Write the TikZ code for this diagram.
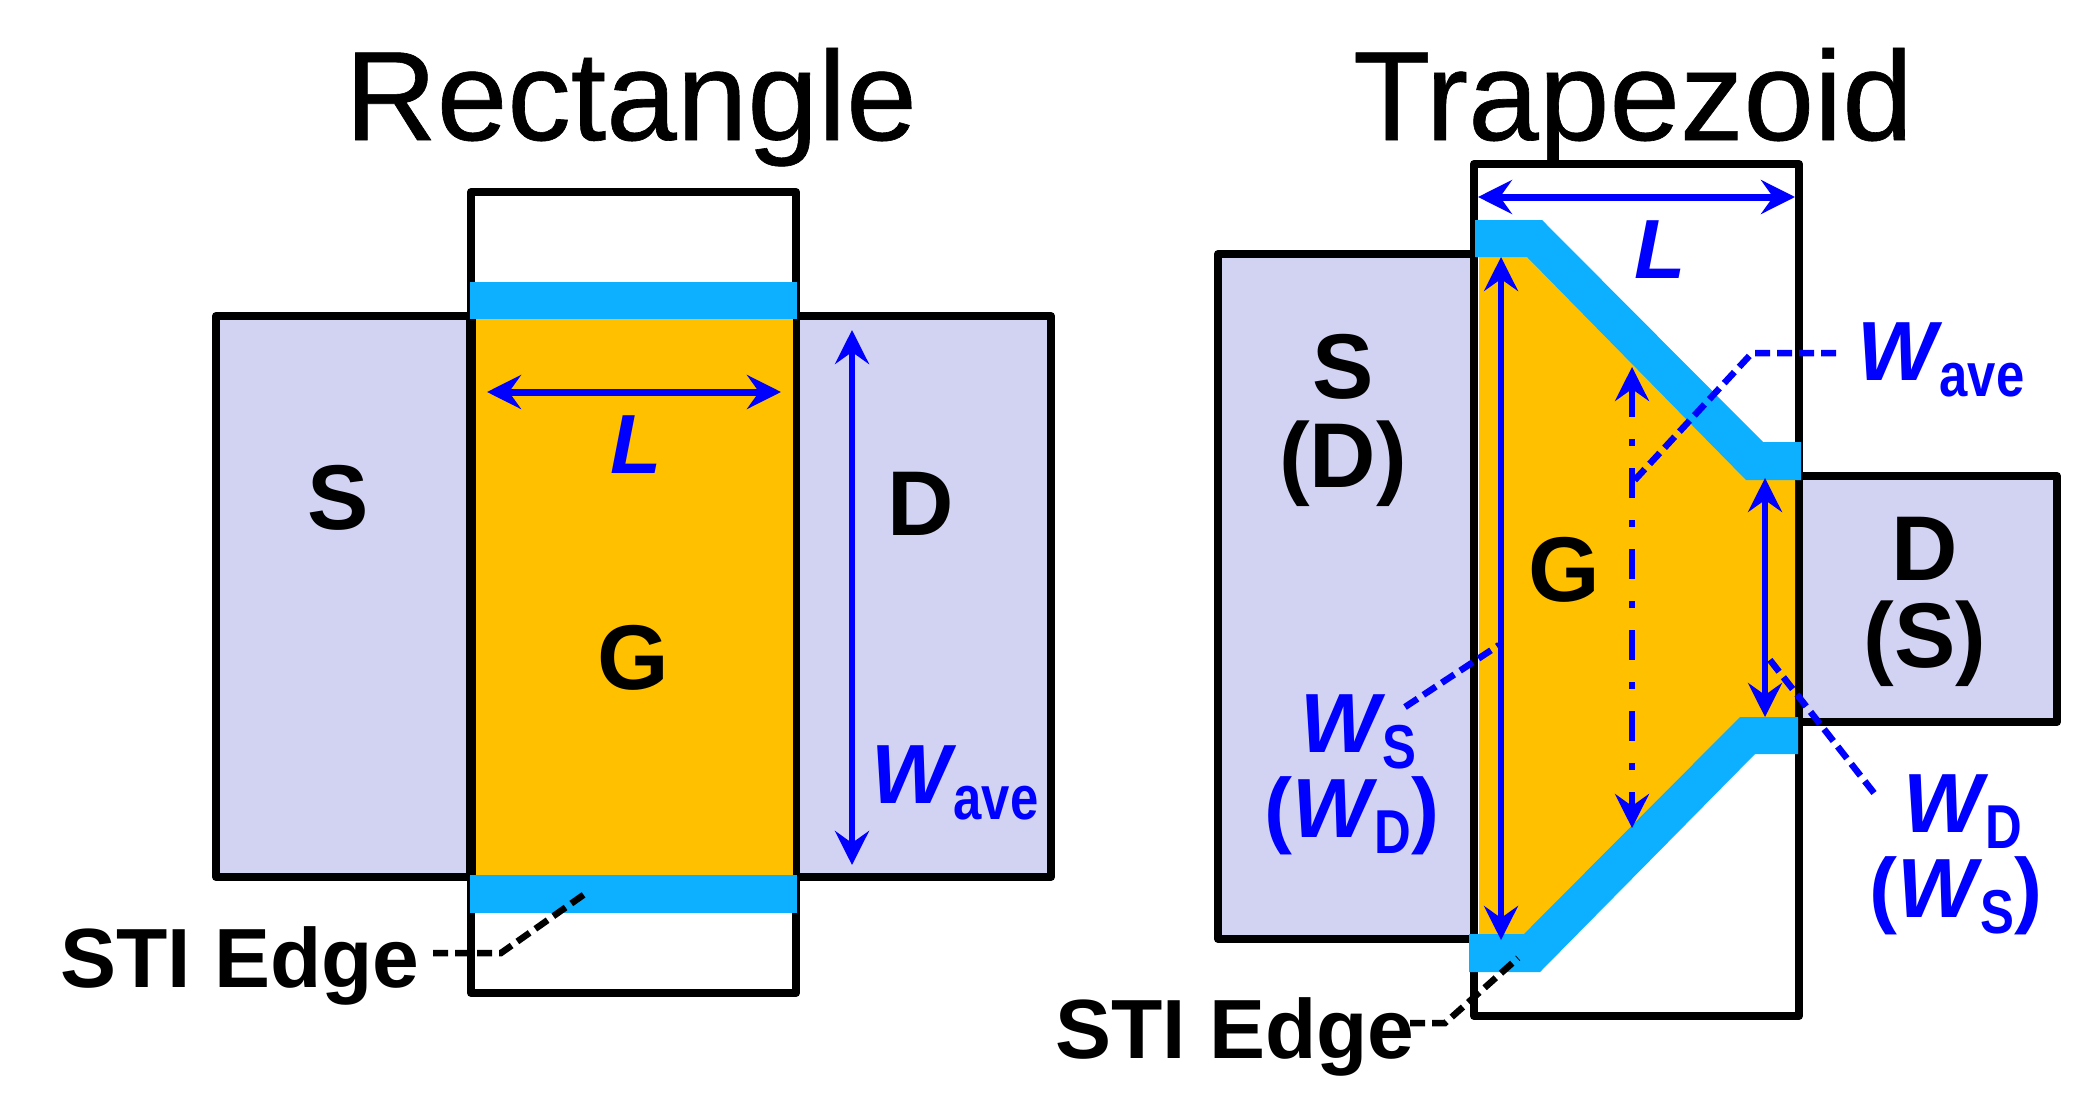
\documentclass[tikz,border=0pt]{standalone}
\usepackage{fontspec}
\usepackage{graphicx}
\setmainfont{Liberation Sans}
\newfontfamily\titlefont[FakeBold=0.5]{Liberation Sans}
\usetikzlibrary{arrows.meta}
\definecolor{srcfill}{HTML}{D2D2F2}
\definecolor{gatefill}{HTML}{FFC000}
\definecolor{stifill}{HTML}{0DAFFF}
\definecolor{dimblue}{HTML}{0000FF}
\newcommand{\WSub}[1]{\textit{W}\kern-3pt\raisebox{-16pt}{\scalebox{.82}[1]{\fontsize{62}{62}\selectfont #1}}}
\tikzset{
  x=1pt,y=-1pt,
  box/.style={draw=black,line width=8pt,line join=round},
  srcbox/.style={box,fill=srcfill},
  stiband/.style={fill=stifill,draw=none},
  gatearea/.style={fill=gatefill,draw=none},
  dimline/.style={draw=dimblue,line width=6pt,{Stealth[length=34pt,width=34pt,inset=12pt]}-{Stealth[length=34pt,width=34pt,inset=12pt]}},
  dimdash/.style={dimline,dash pattern=on 30pt off 22pt on 7pt off 22pt},
  leader/.style={line width=6.5pt,dash pattern=on 15pt off 7pt},
  lab/.style={inner sep=0pt,anchor=base},
  title/.style={lab,font=\fontsize{127}{127}\titlefont\selectfont},
  term/.style={lab,font=\fontsize{92}{92}\selectfont\bfseries},
  dimlab/.style={lab,text=dimblue,font=\fontsize{84}{84}\selectfont\bfseries},
  stilab/.style={lab,font=\fontsize{84}{84}\selectfont\bfseries},
}
\begin{document}
\begin{tikzpicture}
\useasboundingbox (0,0) rectangle (2095,1113);
% ---------- Rectangle
\node[title] (t1) at (631,140) {Rectangle};
\draw[box,fill=white] (471,192) rectangle (796,993);
\draw[srcbox] (216,316) rectangle (471,877);
\draw[srcbox] (796,316) rectangle (1051,877);
\fill[gatearea] (476,316) rectangle (793,877);
\draw[black,line width=10pt] (471,316) -- (471,877);
\fill[stiband] (470,282) rectangle (797,319);
\fill[stiband] (470,875) rectangle (797,913);
\coordinate (la) at (487,392); \coordinate (lb) at (781,392);
\draw[dimline,line width=7pt] (la) -- (lb);
\coordinate (wa) at (852,330); \coordinate (wb) at (852,865);
\draw[dimline] (wa) -- (wb);
\node[term] (s1) at (338,529) {S};
\node[term] (d1) at (921,535) {D};
\node[term] (g1) at (633,689) {G};
\node[dimlab] (l1) at (636,473) {\textit{L}};
\node[dimlab,anchor=base west] (wave1) at (871,803) {\WSub{ave}};
\node[stilab,anchor=base west] (sti1) at (60,987) {STI Edge};
\coordinate (s1a) at (433,953); \coordinate (s1b) at (501,953); \coordinate (s1c) at (589,891);
\draw[leader] (s1a) -- (s1b) -- (s1c);
% ---------- Trapezoid
\node[title] (t2) at (1633,140) {Trapezoid};
\draw[box,fill=white] (1474,164) rectangle (1799,1016);
\draw[srcbox] (1218,254) rectangle (1474,939);
\draw[srcbox] (1799,476) rectangle (2057,722);
\fill[gatearea] (1479,254) -- (1530,254) -- (1750,476) -- (1795,476) -- (1795,722) -- (1740,722) -- (1524,938) -- (1479,938) -- cycle;
\fill[stiband] (1475,220) -- (1542,220) -- (1763,442) -- (1801,442) -- (1801,480) -- (1746,480) -- (1527,257) -- (1475,257) -- cycle;
\fill[stiband] (1469,934) -- (1524,934) -- (1740,717) -- (1798,717) -- (1798,754) -- (1755,754) -- (1540,972) -- (1469,972) -- cycle;
\coordinate (l2a) at (1478,197); \coordinate (l2b) at (1795,197);
\draw[dimline,line width=7pt] (l2a) -- (l2b);
\coordinate (w2a) at (1501,257); \coordinate (w2b) at (1501,940);
\draw[dimline] (w2a) -- (w2b);
\coordinate (w3a) at (1632,367); \coordinate (w3b) at (1632,828);
\draw[dimdash] (w3a) -- (w3b);
\coordinate (w4a) at (1765,478); \coordinate (w4b) at (1765,717);
\draw[dimline] (w4a) -- (w4b);
\node[term] (s2) at (1343,398) {S};
\node[term] (d2) at (1343,487) {(D)};
\node[term] (g2) at (1564,601) {G};
\node[term] (d3) at (1925,580) {D};
\node[term] (s3) at (1925,667) {(S)};
\node[dimlab] (l2) at (1660,278) {\textit{L}};
\node[dimlab,anchor=base west] (wave2) at (1857,380) {\WSub{ave}};
\node[dimlab,anchor=base west] (ws) at (1300,752) {\WSub{S}};
\node[dimlab,anchor=base] (wd) at (1352,837) {(\WSub{D})};
\node[dimlab,anchor=base west] (wd2) at (1903,832) {\WSub{D}};
\node[dimlab,anchor=base] (ws2) at (1956,917) {(\WSub{S})};
\node[stilab,anchor=base west] (sti2) at (1055,1058) {STI Edge};
\coordinate (a1) at (1836,353); \coordinate (a2) at (1752,353); \coordinate (a3) at (1632,483);
\draw[leader,dimblue] (a1) -- (a2) -- (a3);
\coordinate (b1) at (1405,707); \coordinate (b2) at (1499,645);
\draw[leader,dimblue] (b1) -- (b2);
\coordinate (c1) at (1874,793); \coordinate (c2) at (1766,655);
\draw[leader,dimblue] (c1) -- (c2);
\coordinate (e1) at (1410,1023); \coordinate (e2) at (1445,1023); \coordinate (e3) at (1518,958);
\draw[leader] (e1) -- (e2) -- (e3);
\end{tikzpicture}
\end{document}
